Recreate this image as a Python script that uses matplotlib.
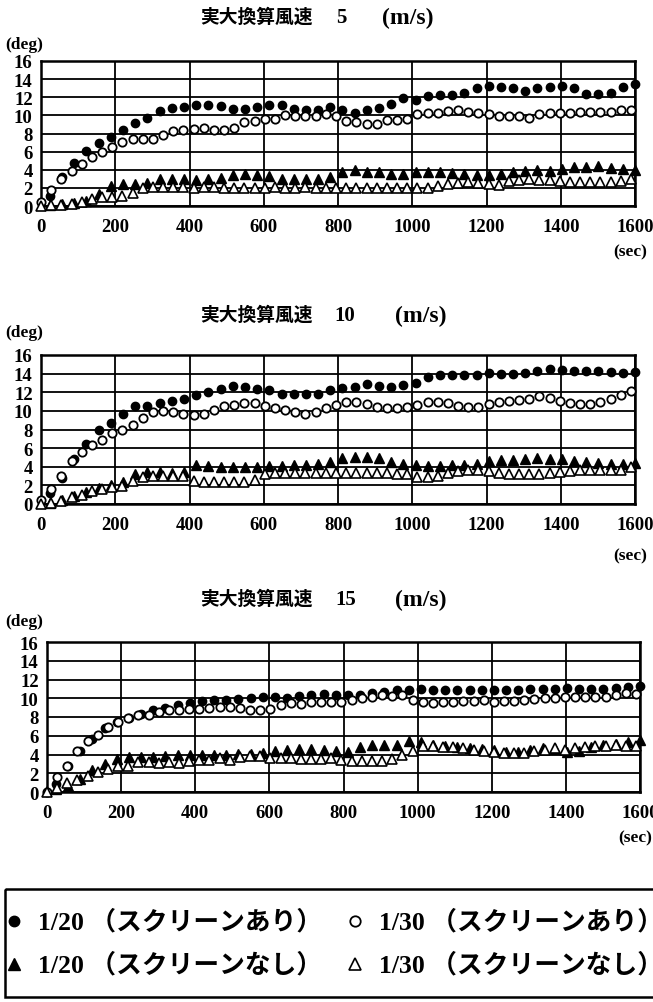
import numpy as np
import matplotlib
matplotlib.use("Agg")
import matplotlib.pyplot as plt
from matplotlib.patches import Rectangle

plt.rcParams['font.family'] = ['Liberation Serif', 'Noto Sans CJK JP']
plt.rcParams['font.weight'] = 'bold'

W, H = 653, 1003

# sample times (sec, full-scale) for the two model scales
t20 = np.linspace(24, 1600, 49)
t30 = np.arange(59) * 27.4

wind_speeds = ["5", "10", "15"]
xticks = [0, 200, 400, 600, 800, 1000, 1200, 1400, 1600]
yticks = [0, 2, 4, 6, 8, 10, 12, 14, 16]

# wind 5 m/s
p1_20_ari = [1.1, 3.2, 4.7, 6.1, 6.9, 7.6, 8.4, 9.2, 9.7, 10.5,
             10.8, 10.9, 11.1, 11.2, 11.0, 10.7, 10.7, 10.9, 11.2, 11.1,
             10.7, 10.6, 10.6, 10.9, 10.6, 10.3, 10.6, 10.8, 11.3, 11.9,
             11.7, 12.1, 12.3, 12.2, 12.5, 13.0, 13.2, 13.1, 13.0, 12.7,
             13.0, 13.1, 13.2, 13.0, 12.4, 12.4, 12.5, 13.1, 13.5]
p1_30_ari = [0.4, 1.8, 3.0, 3.9, 4.6, 5.4, 6.0, 6.5, 7.1, 7.4,
             7.4, 7.4, 7.8, 8.3, 8.4, 8.5, 8.6, 8.4, 8.4, 8.6,
             9.3, 9.4, 9.6, 9.6, 10.0, 9.9, 9.9, 9.9, 10.1, 9.9,
             9.4, 9.3, 9.1, 9.1, 9.5, 9.5, 9.6, 10.2, 10.3, 10.3,
             10.5, 10.6, 10.4, 10.3, 10.1, 9.9, 9.9, 9.9, 9.7, 10.1,
             10.3, 10.3, 10.3, 10.4, 10.4, 10.4, 10.4, 10.6, 10.6]
p1_20_nashi = [0.1, 0.2, 0.3, 0.6, 1.3, 2.2, 2.4, 2.4, 2.5, 3.0,
               3.0, 3.0, 2.9, 3.0, 3.1, 3.4, 3.5, 3.4, 3.3, 3.0,
               3.0, 3.0, 3.0, 3.2, 3.8, 4.0, 3.8, 3.7, 3.5, 3.5,
               3.7, 3.7, 3.7, 3.6, 3.5, 3.4, 3.4, 3.5, 3.8, 3.9,
               4.0, 3.9, 4.1, 4.3, 4.3, 4.4, 4.2, 4.1, 4.0]
p1_30_nashi = [0.0, 0.1, 0.15, 0.2, 0.4, 0.8, 1.0, 1.0, 1.1, 1.4,
               2.0, 2.1, 2.1, 2.1, 2.1, 2.0, 2.1, 2.1, 2.0, 2.0,
               2.0, 2.0, 2.0, 2.1, 2.0, 2.0, 2.1, 2.0, 2.0, 2.0,
               2.0, 2.0, 2.0, 2.0, 2.0, 2.0, 2.0, 2.0, 2.0, 2.2,
               2.4, 2.5, 2.6, 2.5, 2.4, 2.3, 2.8, 2.9, 3.0, 2.9,
               2.9, 2.8, 2.7, 2.7, 2.7, 2.7, 2.7, 2.8, 3.0]

# wind 10 m/s
p2_20_ari = [1.2, 2.8, 4.8, 6.4, 7.9, 8.7, 9.7, 10.5, 10.5, 10.8,
             11.1, 11.3, 11.7, 12.0, 12.4, 12.7, 12.6, 12.4, 12.2, 11.8,
             11.8, 11.8, 11.8, 12.2, 12.5, 12.6, 12.9, 12.7, 12.6, 12.8,
             13.0, 13.6, 13.8, 13.9, 13.8, 13.9, 14.1, 14.0, 14.0, 14.1,
             14.3, 14.5, 14.4, 14.3, 14.3, 14.3, 14.2, 14.1, 14.2]
p2_30_ari = [0.4, 1.6, 3.0, 4.6, 5.6, 6.3, 6.9, 7.6, 8.0, 8.5,
             9.2, 9.9, 10.0, 9.9, 9.7, 9.6, 9.7, 10.1, 10.5, 10.6,
             10.8, 10.8, 10.5, 10.3, 10.1, 9.9, 9.7, 9.9, 10.3, 10.6,
             10.9, 11.0, 10.7, 10.4, 10.3, 10.3, 10.4, 10.6, 10.9, 11.0,
             10.8, 10.5, 10.4, 10.4, 10.7, 10.9, 11.1, 11.2, 11.3, 11.6,
             11.4, 11.1, 10.8, 10.7, 10.7, 10.9, 11.3, 11.7, 12.1]
p2_20_nashi = [0.1, 0.4, 0.9, 1.3, 1.7, 2.0, 2.4, 3.2, 3.4, 3.4,
               3.3, 3.4, 4.2, 4.1, 4.0, 4.0, 4.0, 4.0, 4.1, 4.1,
               4.2, 4.2, 4.3, 4.5, 4.9, 5.0, 5.0, 4.9, 4.5, 4.3,
               4.2, 4.1, 4.1, 4.2, 4.2, 4.3, 4.6, 4.7, 4.7, 4.8,
               4.9, 4.8, 4.8, 4.6, 4.5, 4.4, 4.3, 4.3, 4.4]
p2_30_nashi = [0.0, 0.1, 0.3, 0.7, 1.0, 1.4, 1.6, 1.8, 1.9, 2.5,
               2.9, 3.0, 3.0, 3.0, 3.0, 2.5, 2.4, 2.4, 2.4, 2.4,
               2.4, 2.6, 3.2, 3.3, 3.3, 3.3, 3.3, 3.3, 3.3, 3.3,
               3.3, 3.3, 3.3, 3.3, 3.3, 3.2, 3.2, 2.9, 2.9, 3.0,
               3.3, 3.5, 3.6, 3.6, 3.5, 3.3, 3.2, 3.2, 3.2, 3.2,
               3.3, 3.4, 3.5, 3.6, 3.6, 3.6, 3.6, 3.7, 4.0]

# wind 15 m/s
p3_20_ari = [0.9, 2.8, 4.4, 5.7, 6.8, 7.5, 7.9, 8.3, 8.8, 9.0,
             9.3, 9.5, 9.7, 9.8, 9.8, 9.9, 10.0, 10.1, 10.1, 10.0,
             10.2, 10.4, 10.5, 10.3, 10.3, 10.4, 10.6, 10.7, 10.9, 10.9,
             11.0, 10.9, 10.9, 10.9, 10.9, 10.9, 10.9, 10.9, 10.9, 11.0,
             11.0, 11.0, 11.1, 11.0, 11.0, 11.0, 11.1, 11.2, 11.3]
p3_30_ari = [0.0, 1.6, 2.8, 4.4, 5.4, 6.1, 6.9, 7.5, 7.9, 8.2,
             8.2, 8.5, 8.7, 8.7, 8.9, 8.9, 9.0, 9.1, 9.1, 9.0,
             8.7, 8.7, 8.9, 9.3, 9.5, 9.4, 9.6, 9.6, 9.6, 9.6,
             9.8, 10.0, 10.1, 10.3, 10.2, 10.3, 9.8, 9.6, 9.5, 9.6,
             9.6, 9.7, 9.7, 9.8, 9.6, 9.7, 9.7, 9.8, 9.9, 10.0,
             10.0, 10.1, 10.1, 10.1, 10.1, 10.1, 10.3, 10.6, 10.5]
p3_20_nashi = [0.3, 0.6, 1.4, 2.4, 3.0, 3.5, 3.7, 3.7, 3.7, 3.8,
               3.9, 3.9, 3.9, 3.9, 4.0, 4.1, 4.1, 4.2, 4.4, 4.5,
               4.6, 4.6, 4.5, 4.4, 4.3, 4.8, 5.0, 5.0, 5.0, 5.4,
               5.3, 5.0, 4.9, 4.8, 4.7, 4.6, 4.5, 4.3, 4.3, 4.5,
               4.7, 4.6, 4.3, 4.4, 4.8, 5.0, 5.1, 5.3, 5.5]
p3_30_nashi = [0.0, 0.4, 1.0, 1.3, 1.7, 2.1, 2.5, 2.8, 2.8, 3.2,
               3.2, 3.1, 3.2, 3.1, 3.3, 3.4, 3.4, 3.6, 3.4, 3.7,
               3.8, 3.8, 3.6, 3.6, 3.6, 3.5, 3.5, 3.5, 3.6, 3.4,
               3.3, 3.3, 3.3, 3.3, 3.5, 3.9, 4.4, 4.9, 4.9, 4.8,
               4.8, 4.7, 4.5, 4.4, 4.3, 4.2, 4.2, 4.2, 4.4, 4.5,
               4.7, 4.5, 4.7, 4.8, 4.9, 4.9, 5.0, 4.9, 4.9]

legend_labels = ["1/20 （スクリーンあり）", "1/30 （スクリーンあり）",
                 "1/20 （スクリーンなし）", "1/30 （スクリーンなし）"]

data = [(p1_20_ari, p1_30_ari, p1_20_nashi, p1_30_nashi),
        (p2_20_ari, p2_30_ari, p2_20_nashi, p2_30_nashi),
        (p3_20_ari, p3_30_ari, p3_20_nashi, p3_30_nashi)]

# pixel layout: (left, top, right, bottom), title y, deg y, sec y, number x, unit x
layout = [((41, 62, 635, 207), 18, 45, 252, 341, 408),
          ((41, 356, 635, 505), 316, 333, 556, 345, 421),
          ((47, 643, 640, 793), 600, 622, 838, 346, 421)]

fig = plt.figure(figsize=(W / 100, H / 100), dpi=100)

styles = [dict(marker='o', ms=6, mfc='black', mec='black'),
          dict(marker='o', ms=6, mfc='white', mec='black', mew=1.3),
          dict(marker='^', ms=6.5, mfc='black', mec='black'),
          dict(marker='^', ms=6.5, mfc='white', mec='black', mew=1.2)]

for ws, (rect, ty, dy, sy, nx, ux), series in zip(wind_speeds, layout, data):
    l, t, r, b = rect
    ax = fig.add_axes([l / W, 1 - b / H, (r - l) / W, (b - t) / H])
    ax.set_xlim(0, 1600)
    ax.set_ylim(0, 16)
    ax.set_xticks(xticks)
    ax.set_yticks(yticks)
    ax.grid(True, color='black', lw=1.3)
    ax.set_axisbelow(True)
    for s in ax.spines.values():
        s.set_linewidth(1.8)
    ax.tick_params(length=0, labelsize=13.5)
    ax.tick_params(axis='x', pad=9)
    ax.tick_params(axis='y', pad=6)

    a20, a30, n20, n30 = series
    ax.plot(t20, a20, ls='none', clip_on=False, zorder=3, **styles[0])
    ax.plot(t30, a30, ls='none', clip_on=False, zorder=4, **styles[1])
    ax.plot(t20, n20, ls='none', clip_on=False, zorder=3, **styles[2])
    ax.plot(t30, n30, ls='none', clip_on=False, zorder=4, **styles[3])

    fig.text(200 / W, 1 - ty / H, "実大換算風速", fontsize=13.5, ha='left', va='center')
    fig.text(nx / W, 1 - ty / H, ws, fontsize=15, ha='center', va='center')
    fig.text(ux / W, 1 - ty / H, "(m/s)", fontsize=17, ha='center', va='center')
    fig.text(5 / W, 1 - dy / H, "(deg)", fontsize=12.5, ha='left', va='center')
    fig.text((r - 5) / W, 1 - sy / H, "(sec)", fontsize=12.5, ha='center', va='center')

# legend box drawn in pixel coordinates
lax = fig.add_axes([0, 0, 1, 1])
lax.set_xlim(0, W)
lax.set_ylim(H, 0)
lax.axis('off')
lax.add_patch(Rectangle((5, 890), 700, 108, fill=False, lw=1.8, ec='black', clip_on=False))
pos = [(14, 922), (355, 922), (14, 965), (355, 965)]
for (x, y), st, lab in zip(pos, styles, legend_labels):
    st2 = dict(st)
    st2['ms'] = st['ms'] + 1.5
    lax.plot([x], [y], ls='none', clip_on=False, **st2)
    lax.text(x + 24, y, lab, fontsize=18.5, ha='left', va='center')

fig.savefig("out.png", dpi=100)
